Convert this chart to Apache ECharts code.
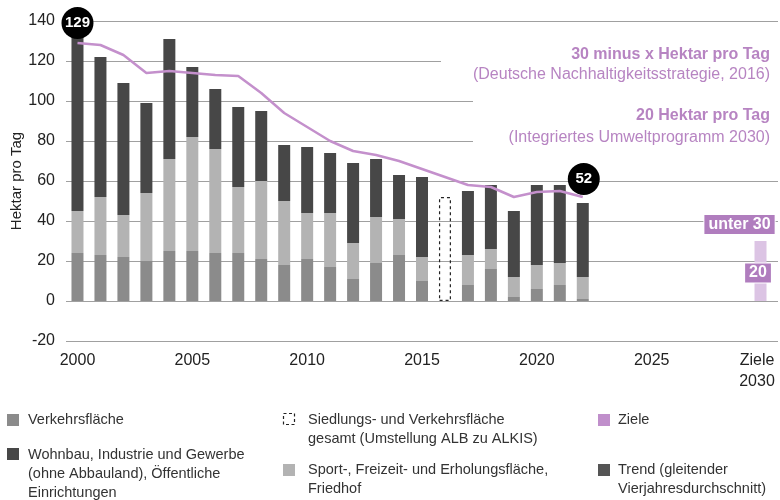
<!DOCTYPE html>
<html><head><meta charset="utf-8">
<script src="https://cdn.jsdelivr.net/npm/echarts@6/dist/echarts.min.js"></script>
<style>html,body{margin:0;padding:0;background:#fff}#c{width:780px;height:500px}</style>
</head><body><div id="c"></div>
<script>
// ---- data ----
const years = ['2000','2001','2002','2003','2004','2005','2006','2007','2008','2009','2010','2011','2012','2013','2014','2015','2016','2017','2018','2019','2020','2021','2022','2023','2024','2025','2026','2027','2028','2029','2030'];
const shownTicks = ['2000','2005','2010','2015','2020','2025','2030'];
const zielTickLabel = ['Ziele','2030'];
const verkehr = [24,23,22,20,25,25,24,24,21,18,21,17,11,19,23,10,null,8,16,2,6,8,1];
const sport   = [21,29,21,34,46,57,52,33,39,32,23,27,18,23,18,12,null,15,10,10,12,11,11];
const wohnbau = [87,70,66,45,60,35,30,40,35,28,33,30,40,29,22,40,null,32,32,33,40,39,37];
const gesamt  = [null,null,null,null,null,null,null,null,null,null,null,null,null,null,null,null,52];
const trend   = [129,128,123,114,115,114,113,112.5,104,94,87,80,75,73,70,66,62,58,57,52,54.5,55,52];
const zielYear = '2030';
const zielTotal = 30;   // "unter 30"
const zielLow = 20;     // "20"
const zielLabels = ['unter 30','20'];

const ff = "'Liberation Sans', Arial, sans-serif";
const ffN = "'Liberation Sans Narrow','Liberation Sans', Arial, sans-serif";
const purple = '#b784c2';

const zieleData = years.map(y => y === zielYear ? zielTotal : null);

const chart = echarts.init(document.getElementById('c'), null, {renderer:'canvas'});
const legendText = (x, y, t) => ({type:'text', x, y, z:20, style:{text:t, font:'14.5px ' + ff, fill:'#333', lineHeight:19, verticalAlign:'top', align:'left'}});
const legendBox = (x, y, c) => ({type:'rect', x, y, z:20, shape:{width:12, height:12}, style:{fill:c}});

chart.setOption({
  animation:false,
  backgroundColor:'#fff',
  grid:[
    {left:66, right:2, top:21, bottom:159, containLabel:false, outerBoundsMode:'none'},
    {left:60, right:8, top:21, bottom:159, containLabel:false, outerBoundsMode:'none'}
  ],
  xAxis:[{
    type:'category', data:years, boundaryGap:true, gridIndex:0,
    axisLine:{show:false}, axisTick:{show:false},
    axisLabel:{
      interval:(i, v) => shownTicks.indexOf(v) >= 0,
      formatter:v => v === zielYear ? zielTickLabel.map(s => '{z|' + s + '}').join('\n') : v,
      rich:{z:{fontSize:16, color:'#222', fontFamily:ff, lineHeight:21, padding:[0,19,0,0]}},
      fontSize:16, color:'#222', fontFamily:ff, margin:9, lineHeight:21
    }
  },{
    type:'category', data:years, boundaryGap:true, gridIndex:1, show:false
  }],
  yAxis:[{
    type:'value', min:-20, max:140, interval:20, gridIndex:0,
    name:'Hektar pro Tag', nameLocation:'middle', nameGap:42, nameMoveOverlap:false,
    nameTextStyle:{fontSize:15, color:'#222', fontFamily:ff},
    axisLine:{show:false}, axisTick:{show:false},
    axisLabel:{fontSize:16, color:'#222', fontFamily:ff, margin:11},
    splitLine:{lineStyle:{color:'#a0a0a0', width:1.2}}
  },{
    type:'value', min:-20, max:140, interval:20, gridIndex:1, show:false, splitLine:{show:false}
  }],
  series:[
    {name:'Verkehrsfläche', type:'bar', stack:'a', barWidth:12, data:verkehr, itemStyle:{color:'#8b8b8b'}},
    {name:'Sport-, Freizeit- und Erholungsfläche, Friedhof', type:'bar', stack:'a', barWidth:12, data:sport, itemStyle:{color:'#b3b3b3'}},
    {name:'Wohnbau, Industrie und Gewerbe', type:'bar', stack:'a', barWidth:12, data:wohnbau, itemStyle:{color:'#474747'}},
    {name:'Siedlungs- und Verkehrsfläche gesamt', type:'bar', stack:'a', barWidth:12, data:gesamt,
      itemStyle:{color:'rgba(0,0,0,0)', borderColor:'#222', borderWidth:1.2, borderType:[3,3]}},
    {name:'Ziele', type:'bar', xAxisIndex:1, yAxisIndex:1, barWidth:12, data:zieleData, itemStyle:{color:'#dcc4e4'},
      markPoint:{
        symbol:'rect', symbolSize:1, itemStyle:{color:'rgba(0,0,0,0)'},
        label:{show:true, position:'inside', color:'#fff', fontWeight:'bold', fontSize:16, fontFamily:ffN,
          backgroundColor:'#b07dbe', borderColor:'#fff', borderWidth:1, padding:[2,4,1,4], formatter:p => p.name},
        data:[
          {name:zielLabels[0], coord:[zielYear, zielTotal], label:{offset:[-21,-16.5]}},
          {name:zielLabels[1], coord:[zielYear, zielLow], label:{offset:[-2.5,12]}}
        ]
      }
    },
    {name:'Trend', type:'line', data:trend, symbol:'none', z:5,
      lineStyle:{color:'#c490cc', width:2.5}, itemStyle:{color:'#c490cc'},
      markPoint:{
        symbol:'circle', symbolSize:32, itemStyle:{color:'#000'},
        label:{show:true, color:'#fff', fontWeight:'bold', fontSize:15, fontFamily:ffN},
        data:[
          {coord:[0, trend[0]], value:trend[0], symbolOffset:[0,-20]},
          {coord:[trend.length-1, trend[trend.length-1]], value:trend[trend.length-1], symbolOffset:[1,-18]}
        ]
      }
    }
  ],
  graphic:[
    {type:'rect', x:441, y:45, z:10, shape:{width:339, height:43}, style:{fill:'#fff'}},
    {type:'rect', x:473, y:92, z:10, shape:{width:307, height:58}, style:{fill:'#fff'}},
    {type:'text', x:770, y:55, z:11, style:{text:'30 minus x Hektar pro Tag', font:'bold 16px ' + ff, fill:purple, align:'right', verticalAlign:'middle'}},
    {type:'text', x:770, y:75, z:11, style:{text:'(Deutsche Nachhaltigkeitsstrategie, 2016)', font:'16px ' + ff, fill:purple, align:'right', verticalAlign:'middle'}},
    {type:'text', x:770, y:116, z:11, style:{text:'20 Hektar pro Tag', font:'bold 16px ' + ff, fill:purple, align:'right', verticalAlign:'middle'}},
    {type:'text', x:770, y:138, z:11, style:{text:'(Integriertes Umweltprogramm 2030)', font:'16px ' + ff, fill:purple, align:'right', verticalAlign:'middle'}},
    // legend
    legendBox(7, 414, '#8b8b8b'), legendText(28, 410.5, 'Verkehrsfläche'),
    legendBox(7, 448, '#474747'), legendText(28, 445.5, 'Wohnbau, Industrie und Gewerbe\n(ohne Abbauland), Öffentliche\nEinrichtungen'),
    {type:'rect', x:283.5, y:413.5, z:20, shape:{width:11, height:11}, style:{fill:'none', stroke:'#222', lineWidth:1.2, lineDash:[3,2.5]}},
    legendText(308, 410.5, 'Siedlungs- und Verkehrsfläche\ngesamt (Umstellung ALB zu ALKIS)'),
    legendBox(283, 464, '#b3b3b3'), legendText(308, 460.5, 'Sport-, Freizeit- und Erholungsfläche,\nFriedhof'),
    legendBox(598, 414, '#c08fcb'), legendText(618, 410.5, 'Ziele'),
    legendBox(598, 464, '#555555'), legendText(618, 460.5, 'Trend (gleitender\nVierjahresdurchschnitt)')
  ]
});
</script></body></html>
